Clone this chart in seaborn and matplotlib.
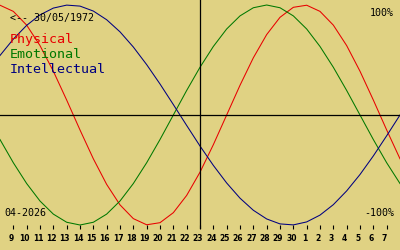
import matplotlib
matplotlib.use("Agg")
import matplotlib.pyplot as plt
import matplotlib.transforms as mtransforms
import pandas as pd
import seaborn as sns

# ---- data ----
day_index = list(range(31))  # 0 = 08/04 ... 30 = 08/05
day_labels = ["9", "10", "11", "12", "13", "14", "15", "16", "17", "18", "19",
              "20", "21", "22", "23", "24", "25", "26", "27", "28", "29", "30",
              "1", "2", "3", "4", "5", "6", "7"]
physical = [0.998, 0.942, 0.817, 0.631, 0.398, 0.136, -0.136, -0.398, -0.631,
            -0.817, -0.942, -0.998, -0.979, -0.888, -0.731, -0.520, -0.270,
            0.000, 0.270, 0.520, 0.731, 0.888, 0.979, 0.998, 0.942, 0.817,
            0.631, 0.398, 0.136, -0.136, -0.398]
emotional = [-0.223, -0.434, -0.623, -0.782, -0.901, -0.975, -1.000, -0.975,
             -0.901, -0.782, -0.623, -0.434, -0.223, 0.000, 0.223, 0.434,
             0.623, 0.782, 0.901, 0.975, 1.000, 0.975, 0.901, 0.782, 0.623,
             0.434, 0.223, 0.000, -0.223, -0.434, -0.623]
intellectual = [0.541, 0.690, 0.815, 0.910, 0.972, 0.999, 0.990, 0.945, 0.866,
                0.756, 0.618, 0.458, 0.282, 0.095, -0.095, -0.282, -0.458,
                -0.618, -0.756, -0.866, -0.945, -0.990, -0.999, -0.972, -0.910,
                -0.815, -0.690, -0.541, -0.372, -0.189, 0.000]
series_names = ["Physical", "Emotional", "Intellectual"]
series_colors = ["#e80000", "#007800", "#000080"]
birth_label = "<-- 30/05/1972"
month_label = "04-2026"
top_label = "100%"
bottom_label = "-100%"
today_index = 15

df = pd.DataFrame({
    "day": day_index * 3,
    "value": physical + emotional + intellectual,
    "series": [series_names[0]] * 31 + [series_names[1]] * 31 + [series_names[2]] * 31,
})

W, H = 400, 250
bg = "#e0d283"
mono = "DejaVu Sans Mono"

fig = plt.figure(figsize=(W / 100, H / 100), dpi=100)
fig.patch.set_facecolor(bg)
ax = fig.add_axes([0, 21 / H, 1, 229 / H])
ax.set_facecolor(bg)

sns.lineplot(data=df, x="day", y="value", hue="series", hue_order=series_names,
             palette=dict(zip(series_names, series_colors)), lw=0.75,
             legend=False, ax=ax, sort=False)

ax.set_xlim(0, 30)
ax.set_ylim(-1 - 4 / 110, 1 + 5 / 110)
ax.axhline(0, color="black", lw=0.9)
ax.axvline(today_index, color="black", lw=0.9)
for s in ax.spines.values():
    s.set_visible(False)
ax.set_yticks([])
ax.set_xticks(day_index[1:30])
ax.set_xticklabels(day_labels, fontsize=5.5, fontweight="bold")
ax.tick_params(axis="x", direction="in", length=3.2, width=0.8, color="black", pad=3.4)
offset = mtransforms.ScaledTranslation(-2 / 100, 0, fig.dpi_scale_trans)
for lbl in ax.get_xticklabels():
    lbl.set_transform(lbl.get_transform() + offset)
ax.set_xlabel("")
ax.set_ylabel("")

def ftext(x, y, s, **kw):
    fig.text(x / W, 1 - y / H, s, family=mono, va="baseline", **kw)

ftext(10, 21, birth_label, fontsize=7.2, color="black")
ftext(10, 43, series_names[0], fontsize=9.6, color=series_colors[0])
ftext(10, 58, series_names[1], fontsize=9.6, color=series_colors[1])
ftext(10, 73, series_names[2], fontsize=9.6, color=series_colors[2])
ftext(394, 16, top_label, fontsize=7.2, color="black", ha="right")
ftext(394, 216, bottom_label, fontsize=7.2, color="black", ha="right")
ftext(4, 216, month_label, fontsize=7.2, color="black")

fig.savefig("out.png", dpi=100, facecolor=bg)
